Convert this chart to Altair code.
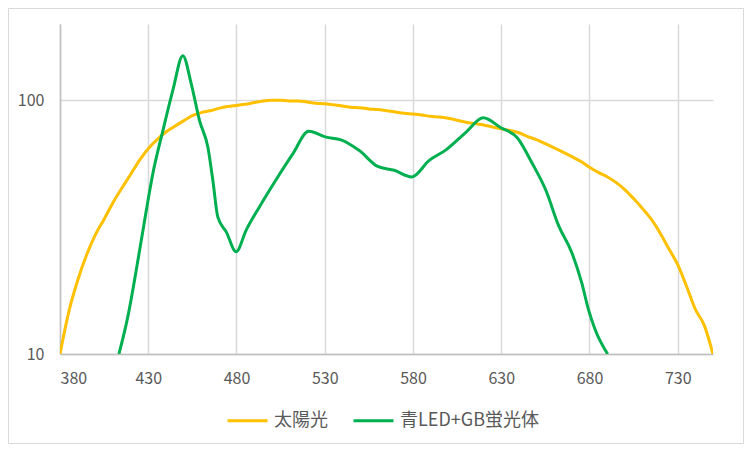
import altair as alt
import pandas as pd

series_names = ["太陽光", "青LED+GB蛍光体"]
series_colors = ["#FFC000", "#00B050"]

sun_wl = [380, 385, 390, 395, 400, 405, 410, 415, 420, 425, 430, 435, 440, 445, 450,
          455, 460, 465, 470, 475, 480, 485, 490, 495, 500, 505, 510, 515, 520, 525,
          530, 535, 540, 545, 550, 555, 560, 565, 570, 575, 580, 585, 590, 595, 600,
          605, 610, 615, 620, 625, 630, 635, 640, 645, 650, 655, 660, 665, 670, 675,
          680, 685, 690, 695, 700, 705, 710, 715, 720, 725, 730, 735, 740, 745, 750]
sun_val = [10, 14.7, 19.5, 24.5, 29.5, 34, 39.5, 45, 51, 58, 64.5, 70, 75, 79, 83,
           87, 89.5, 91, 93, 94.5, 95.5, 96.5, 98, 99.5, 100.2, 100, 99.5, 99.5, 98.5, 97.5,
           97, 96, 95, 94, 93.5, 92.5, 92, 91, 90, 89, 88.3, 87.5, 86.5, 86, 85,
           83.5, 82, 81, 80, 78.5, 77.3, 76, 74.5, 72, 70, 67.5, 65, 62.5, 60, 57.5,
           54.5, 52, 50, 47.5, 44.5, 41, 37.5, 34, 30, 26, 22.5, 18.5, 15, 13, 10]

led_wl = [413.4, 418.5, 423, 427.4, 432.6, 438.3, 444, 449.6, 454.4, 459.1, 463.8,
          466.6, 469.4, 474.2, 479.8, 485.5, 493, 504.3, 511.9, 520.9, 530.7, 539.2,
          549.6, 560, 569.4, 579.4, 589.2, 598.7, 610, 619.8, 629.8, 639.2, 647.7,
          655.3, 662.4, 670, 675.6, 679.4, 683.2, 690.3]
led_val = [10, 14.1, 21, 31.9, 51.4, 76, 110, 150, 116, 83, 65.3,
           48.4, 34.7, 30.3, 25.3, 30.8, 38, 51, 61.5, 75.5, 71.6, 69.9,
           63.4, 54.9, 53, 49.9, 58, 63.8, 74.8, 85.3, 78, 71.1, 56.2,
           44.2, 32.2, 25.1, 19.1, 15, 12.5, 10]

x_ticks = [380, 430, 480, 530, 580, 630, 680, 730]
y_ticks = [10, 100]

df = pd.concat([
    pd.DataFrame({"wl": sun_wl, "val": sun_val, "series": series_names[0], "k": 0}),
    pd.DataFrame({"wl": led_wl, "val": led_val, "series": series_names[1], "k": 1}),
], ignore_index=True)

FONT = "Noto Sans CJK JP"
W, H = 653, 330
PAD = {"left": 52, "top": 16, "right": 31, "bottom": 90}

border = alt.Chart(pd.DataFrame({"a": [0]})).mark_rect(
    fillOpacity=0, stroke="#D9D9D9", strokeWidth=1
).encode(
    x=alt.value(-PAD["left"] + 0.5),
    x2=alt.value(W + PAD["right"] - 0.5),
    y=alt.value(-PAD["top"] + 0.5),
    y2=alt.value(H + PAD["bottom"] - 0.5),
)

lines = alt.Chart(df).mark_line(interpolate="monotone", strokeWidth=3, clip=True).encode(
    x=alt.X("wl:Q",
            scale=alt.Scale(domain=[380, 750], nice=False, zero=False),
            axis=alt.Axis(values=x_ticks, title=None, grid=True, ticks=False,
                          labelPadding=16, labelFont=FONT, labelFontSize=16,
                          labelColor="#595959", domainColor="#BFBFBF", domainWidth=1.5,
                          gridColor="#D9D9D9", gridWidth=1.5)),
    y=alt.Y("val:Q",
            scale=alt.Scale(type="log", domain=[10, 200], nice=False),
            axis=alt.Axis(values=y_ticks, title=None, grid=True, ticks=False,
                          labelPadding=16, labelFont=FONT, labelFontSize=16,
                          labelColor="#595959", domainColor="#BFBFBF", domainWidth=1.5,
                          gridColor="#D9D9D9", gridWidth=1.5)),
    color=alt.Color("series:N",
                    scale=alt.Scale(domain=series_names, range=series_colors),
                    legend=alt.Legend(title=None, orient="none", legendX=166, legendY=375,
                                      direction="horizontal", symbolType="stroke",
                                      symbolSize=1600, symbolStrokeWidth=3,
                                      labelFont=FONT, labelFontSize=18,
                                      labelColor="#595959", labelOffset=5,
                                      columnPadding=19, padding=0)),
    order=alt.Order("k:Q"),
)

chart = alt.layer(border, lines).properties(
    width=W, height=H, padding=PAD, autosize="none", background="white"
).configure_view(strokeWidth=0)

chart.save("out.html", embed_options={"renderer": "svg", "actions": False})
